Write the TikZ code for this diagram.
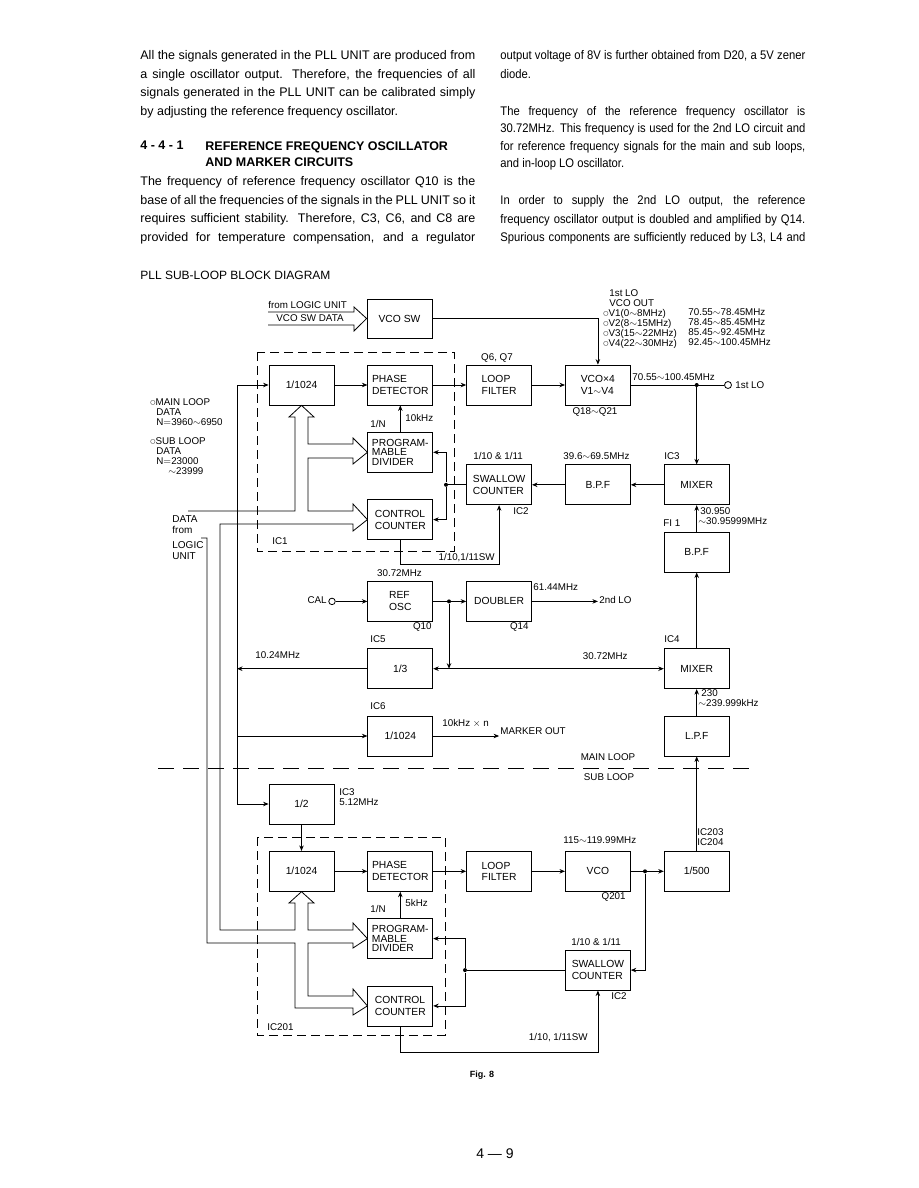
\documentclass[tikz,border=0pt]{standalone}
\usepackage{fontspec}
\setmainfont{Liberation Sans}
\newfontfamily\symfont{DejaVu Sans}
\newfontfamily\narrowfont[FakeStretch=0.9]{Liberation Sans}
\usepackage{tikz}
\usetikzlibrary{arrows.meta, positioning}

\newcommand\dfont{\fontsize{10.3}{11.8}\selectfont}
\newcommand\lfont{\fontsize{9.8}{10}\selectfont}
\newcommand\pfont{\fontsize{12.5}{18.6}\selectfont}
\newcommand\ring{\raisebox{0.8pt}{\symfont\fontsize{6}{6}\selectfont ○}}
\newcommand\jl[1]{\makebox[335pt][s]{#1}}
\newcommand\jr[1]{\makebox[305pt][s]{#1}}

\begin{document}
\begin{tikzpicture}[
    x=1pt, y=-1pt,
    node distance=26.5pt and 33pt,
    line width=0.8pt,
    blk/.style={draw, rectangle, minimum width=65pt, minimum height=40pt, inner sep=0pt, align=left, font=\dfont},
    pgmbox/.style={blk, font=\fontsize{10.3}{9.7}\selectfont},
    lbl/.style={inner sep=0pt, font=\lfont},
    para/.style={inner sep=0pt, anchor=north west, align=left, font=\pfont},
    arrow/.style={->, >={Stealth[length=5.5pt, width=4.5pt]}},
    jdot/.style={circle, fill, inner sep=0pt, minimum size=4pt},
    term/.style={circle, draw, fill=white, inner sep=0pt, minimum size=7pt},
    grp/.style={draw, dash pattern=on 9pt off 5pt, line width=0.7pt},
    bus/.style={line join=miter}
]
\fill[white] (0,0) rectangle (918,1188);
\useasboundingbox (0,0) rectangle (918,1188);

% Text columns
\node (p1) [para] at (140,50) {\jl{All the signals generated in the PLL UNIT are produced from}\\
\jl{a single oscillator output. Therefore, the frequencies of all}\\
\jl{signals generated in the PLL UNIT can be calibrated simply}\\
by adjusting the reference frequency oscillator.};
\node (h1) [para, font=\fontsize{12.5}{16.5}\selectfont\bfseries] at (140,141) {4 - 4 - 1};
\node (h2) [para, font=\fontsize{12.5}{16.5}\selectfont\bfseries] at (205,141) {REFERENCE FREQUENCY OSCILLATOR\\AND MARKER CIRCUITS};
\node (p2) [para] at (140,176) {\jl{The frequency of reference frequency oscillator Q10 is the}\\
\jl{base of all the frequencies of the signals in the PLL UNIT so it}\\
\jl{requires sufficient stability. Therefore, C3, C6, and C8 are}\\
\jl{provided for temperature compensation, and a regulator}};
\node (p3) [para, font=\narrowfont\pfont] at (500,50) {\jr{output voltage of 8V is further obtained from D20, a 5V zener}\\
diode.};
\node (p4) [para, font=\narrowfont\fontsize{12.5}{17.5}\selectfont] at (500,106) {\jr{The frequency of the reference frequency oscillator is}\\
\jr{30.72MHz. This frequency is used for the 2nd LO circuit and}\\
\jr{for reference frequency signals for the main and sub loops,}\\
and in-loop LO oscillator.};
\node (p5) [para, font=\narrowfont\pfont] at (500,195) {\jr{In order to supply the 2nd LO output, the reference}\\
\jr{frequency oscillator output is doubled and amplified by Q14.}\\
\jr{Spurious components are sufficiently reduced by L3, L4 and}};
\node (title) [anchor=west, inner sep=0pt, font=\fontsize{12}{14}\selectfont] at (140,275) {PLL SUB-LOOP BLOCK DIAGRAM};

% Main loop blocks
\node (vcosw) [blk, minimum height=39pt] at (399.5,318.5) {VCO SW};
\node (div1) [blk] at (301.5,385) {1/1024};
\node (pd1) [blk, right=of div1] {PHASE\\DETECTOR};
\node (lf1) [blk, right=of pd1] {LOOP\\FILTER};
\node (vco1) [blk, right=of lf1] {VCO×4\\V1$\sim$V4};
\node (pgm1) [pgmbox, below=of pd1] {PROGRAM-\\MABLE\\DIVIDER};
\node (cc1) [blk, below=of pgm1] {CONTROL\\COUNTER};
\node (sw1) [blk, below=59pt of lf1] {SWALLOW\\COUNTER};
\node (bpf1) [blk, right=of sw1] {B.P.F};
\node (mix1) [blk, right=of bpf1] {MIXER};
\node (bpf2) [blk, below=of mix1] {B.P.F};
\node (osc) [blk, below=41pt of cc1] {REF\\OSC};
\node (dbl) [blk, right=of osc] {DOUBLER};
\node (div3) [blk, below=of osc] {1/3};
\node (div6) [blk, below=of div3] {1/1024};
\node (mix2) [blk] at (mix1 |- div3) {MIXER};
\node (lpf) [blk, below=of mix2] {L.P.F};

% Sub loop blocks
\node (div2) [blk] at (301.5,804) {1/2};
\node (div4) [blk, below=of div2] {1/1024};
\node (pd2) [blk, right=of div4] {PHASE\\DETECTOR};
\node (lf2) [blk, right=of pd2] {LOOP\\FILTER};
\node (vco2) [blk, right=of lf2] {VCO};
\node (div5) [blk, right=of vco2] {1/500};
\node (pgm2) [pgmbox, below=of pd2] {PROGRAM-\\MABLE\\DIVIDER};
\node (cc2) [blk, below=of pgm2] {CONTROL\\COUNTER};
\node (sw2) [blk, below=58pt of vco2] {SWALLOW\\COUNTER};

% IC groups
\draw[grp] (257,352) rectangle (454,551);
\draw[grp] (257,837) rectangle (445,1035);
\draw[dash pattern=on 16pt off 9pt] (158,768) -- (752,768);

% Wire columns
\coordinate (c237) at (237,0);
\coordinate (c332) at (332,0);
\coordinate (c446) at (446,0);
\coordinate (c449) at (449,0);
\coordinate (c465) at (465,0);
\coordinate (c645) at (645,0);
\coordinate (c728) at (728,0);

% Main loop wiring
\draw[arrow] (vcosw.east) -| (vco1.north);
\draw[arrow] (div1) -- (pd1);
\draw[arrow] (pd1) -- (lf1);
\draw[arrow] (lf1) -- (vco1);
\node (lo1) [term] at (c728 |- vco1) {};
\node (j1) [jdot] at (mix1 |- vco1) {};
\draw (vco1) -- (lo1);
\draw[arrow] (j1) -- (mix1);
\draw[arrow] (mix1) -- (bpf1);
\draw[arrow] (bpf1) -- (sw1);
\node (j2) [jdot] at (c446 |- sw1) {};
\draw (sw1) -- (j2);
\draw[arrow] (j2) |- (pgm1.east);
\draw[arrow] (j2) |- (cc1.east);
\draw[arrow] (pgm1) -- (pd1);
\draw[arrow] (cc1.south) -- ++(0,24) -| (sw1.south);
\draw[arrow] (bpf2) -- (mix1);
\draw[arrow] (mix2) -- (bpf2);
\draw[arrow] (lpf) -- (mix2);
\draw[arrow] (div5) -- (lpf);

% Reference oscillator
\node (cal) [term, minimum size=6.5pt] at (c332 |- osc) {};
\draw[arrow] (cal) -- (osc);
\node (j3) [jdot] at (c449 |- osc) {};
\draw[arrow] (osc) -- (dbl);
\coordinate (j4) at (c449 |- div3);
\draw[arrow] (j3) -- (j4);
\draw[arrow] (j4) -- (div3.east);
\draw[arrow] (j4) -- (mix2.west);
\coordinate (lo2) at (vco1 |- dbl);
\draw[arrow] (dbl) -- (lo2);
\coordinate (b1) at (c237 |- div3);
\draw[arrow] (div3.west) -- (b1);
\draw[arrow] (b1) |- (div1.west);
\draw[arrow] (b1) |- (div6.west);
\draw[arrow] (b1) |- (div2.west);
\coordinate (mk) at (lf1 |- div6);
\draw[arrow] (div6.east) -- (mk);

% Sub loop wiring
\draw[arrow] (div2) -- (div4);
\draw[arrow] (div4) -- (pd2);
\draw[arrow] (pd2) -- (lf2);
\draw[arrow] (lf2) -- (vco2);
\node (j5) [jdot] at (c645 |- vco2) {};
\draw (vco2) -- (j5);
\draw[arrow] (j5) -- (div5);
\draw[arrow] (j5) |- (sw2.east);
\node (j6) [jdot] at (c465 |- sw2) {};
\draw (sw2) -- (j6);
\draw[arrow] (j6) |- (pgm2.east);
\draw[arrow] (j6) |- (cc2.east);
\draw[arrow] (pgm2) -- (pd2);
\draw[arrow] (cc2.south) -- ++(0,26) -| (sw2.south);

% Data buses (hollow arrows)
\draw[bus] (268,312) -- (354,312) -- (354,307) -- (vcosw.west) -- (354,331) -- (354,325) -- (268,325);
\draw[bus] (188,511) -| (295,417) -- (289,417) -- (div1.south) -- (314,417) -- (308,417)
  |- (353,444) -- (353,438) -- (pgm1.west) -- (353,464) -- (353,458) -| (308,511) -- (353,511)
  -- (353,504) -- (cc1.west) -- (353,531) -- (353,524) -| (220,930) -- (295,930) -- (295,903)
  -- (289,903) -- (div4.south) -- (314,903) -- (308,903) |- (353,930) -- (353,923) -- (pgm2.west)
  -- (353,948) -- (353,943) -| (308,996) -- (353,996) -- (353,989) -- (cc2.west) -- (353,1015)
  -- (353,1008) -| (295,943) -- (207,943) |- (201,538);

% Labels
\node (tlogic) [lbl, anchor=west] at (268,305) {from LOGIC UNIT};
\node (tswdata) [lbl, anchor=west] at (276,318.5) {VCO SW DATA};
\node (tvout) [lbl, anchor=north west, align=left] at (603,289) {\hspace*{6pt}1st LO\\\hspace*{6pt}VCO OUT\\\ring V1(0$\sim$8MHz)\\\ring V2(8$\sim$15MHz)\\\ring V3(15$\sim$22MHz)\\\ring V4(22$\sim$30MHz)};
\node (tvfreq) [lbl, anchor=north west, align=left] at (688,308) {70.55$\sim$78.45MHz\\78.45$\sim$85.45MHz\\85.45$\sim$92.45MHz\\92.45$\sim$100.45MHz};
\node (tq67) [lbl] at (497,358) {Q6, Q7};
\node (tlofreq) [lbl, anchor=west] at (632,377) {70.55$\sim$100.45MHz};
\node (tlo1) [lbl, anchor=west] at (735,385.5) {1st LO};
\node (tq18) [lbl] at (595,412) {Q18$\sim$Q21};
\node (tbpf) [lbl, anchor=west] at (563,456) {39.6$\sim$69.5MHz};
\node (tic3) [lbl, anchor=west] at (664,456) {IC3};
\node (tsw1) [lbl] at (498,456) {1/10 \& 1/11};
\node (tic2) [lbl, anchor=east] at (529,511) {IC2};
\node (tfi) [lbl, anchor=north west, align=left] at (698,507) {\hspace*{2pt}30.950\\$\sim$30.95999MHz};
\node (tfi1) [lbl, anchor=west] at (663,523) {FI 1};
\node (tn1) [lbl, anchor=west] at (370,424) {1/N};
\node (t10k) [lbl, anchor=west] at (405,418) {10kHz};
\node (tic1) [lbl, anchor=west] at (272,541) {IC1};
\node (tsw1sw) [lbl, anchor=east] at (495,558) {1/10,1/11SW};
\node (tosc) [lbl] at (399.5,573) {30.72MHz};
\node (tcal) [lbl, anchor=east] at (327,600) {CAL};
\node (tq10) [lbl, anchor=east] at (432,627) {Q10};
\node (t61) [lbl, anchor=west] at (533,587) {61.44MHz};
\node (t2lo) [lbl, anchor=west] at (599,600) {2nd LO};
\node (tq14) [lbl, anchor=east] at (529,627) {Q14};
\node (tic5) [lbl, anchor=west] at (370,639) {IC5};
\node (t1024) [lbl, anchor=west] at (255,655) {10.24MHz};
\node (t3072) [lbl, anchor=east] at (628,656) {30.72MHz};
\node (tic4) [lbl, anchor=west] at (664,639) {IC4};
\node (t230) [lbl, anchor=north west, align=left] at (698,689) {\hspace*{3pt}230\\$\sim$239.999kHz};
\node (tic6) [lbl, anchor=west] at (370,706) {IC6};
\node (tkn) [lbl, anchor=west] at (442,723) {10kHz $\times$ n};
\node (tmark) [lbl, anchor=west] at (500,731) {MARKER OUT};
\node (tmain) [lbl] at (608,757) {MAIN LOOP};
\node (tsub) [lbl] at (609,777) {SUB LOOP};
\node (tic3b) [lbl, anchor=north west, align=left] at (339,788) {IC3\\5.12MHz};
\node (tn2) [lbl, anchor=west] at (370,909) {1/N};
\node (t5k) [lbl, anchor=west] at (405,903) {5kHz};
\node (tic201) [lbl, anchor=west] at (267,1027) {IC201};
\node (tvco2) [lbl, anchor=west] at (563,840) {115$\sim$119.99MHz};
\node (tq201) [lbl, anchor=east] at (626,897) {Q201};
\node (tic203) [lbl, anchor=north west, align=left] at (697,828) {IC203\\IC204};
\node (tsw2) [lbl] at (596,942) {1/10 \& 1/11};
\node (tic2b) [lbl, anchor=east] at (627,996) {IC2};
\node (tsw2sw) [lbl, anchor=east] at (588,1038) {1/10, 1/11SW};
\node (tmdata) [lbl, anchor=north west, align=left] at (150,398) {\ring MAIN LOOP\\\hspace*{6pt}DATA\\\hspace*{6pt}N$=$3960$\sim$6950};
\node (tsdata) [lbl, anchor=north west, align=left] at (150,437) {\ring SUB LOOP\\\hspace*{6pt}DATA\\\hspace*{6pt}N$=$23000\\\hspace*{18pt}$\sim$23999};
\node (tdata) [lbl, anchor=north west, align=left, font=\fontsize{10}{11}\selectfont] at (172,515) {DATA\\from};
\node (tunit) [lbl, anchor=north west, align=left, font=\fontsize{10}{11}\selectfont] at (172,541) {LOGIC\\UNIT};

% Page foot
\node (fig) [font=\fontsize{9}{10}\selectfont\bfseries] at (482,1075) {Fig. 8};
\node (page) [font=\fontsize{14}{16}\selectfont] at (495,1154) {4 — 9};

\end{tikzpicture}
\end{document}
